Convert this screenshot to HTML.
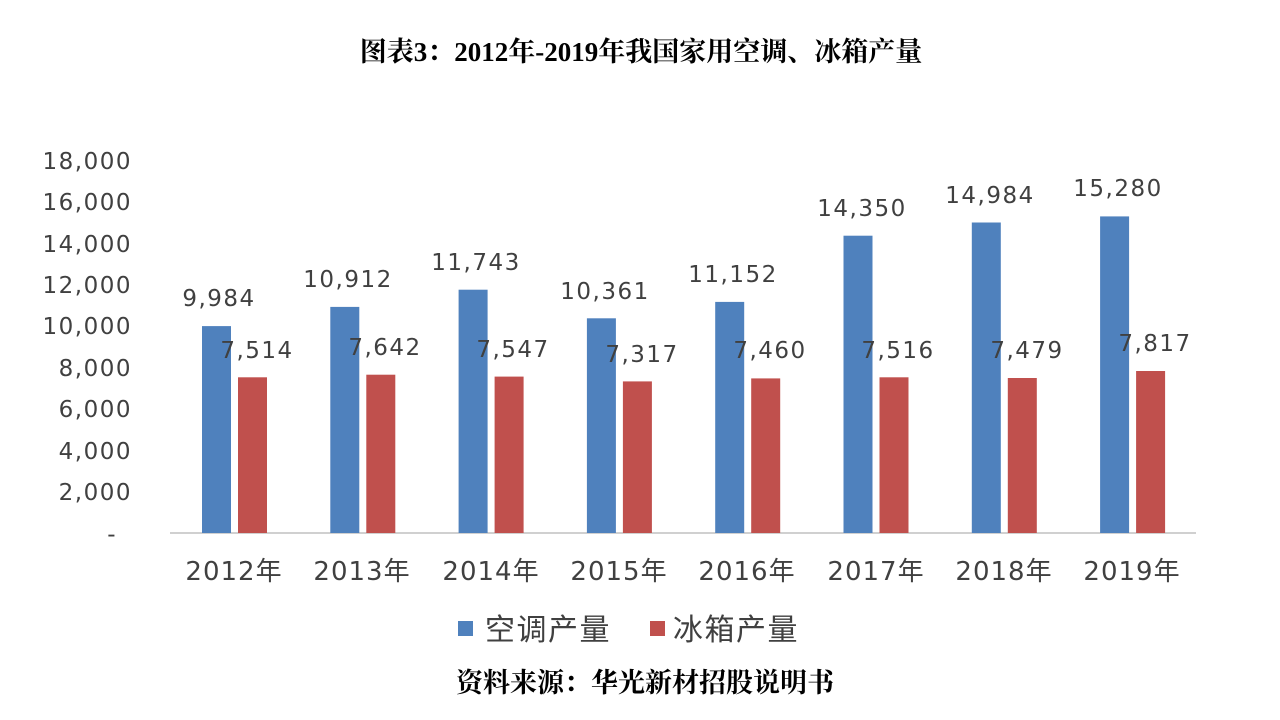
<!DOCTYPE html>
<html><head><meta charset="utf-8"><style>
body{margin:0;background:#fff;width:1280px;height:720px;overflow:hidden}
svg{display:block}
.t{font-family:"Liberation Serif","Noto Serif CJK SC",serif;font-weight:bold;fill:#000}
.a{font-family:"DejaVu Sans","Noto Sans CJK SC",sans-serif;fill:#404040;font-size:23px;letter-spacing:1.5px}
.y{font-size:26px;letter-spacing:1px}
.l{font-size:30px;letter-spacing:1.5px}
</style></head><body>
<svg width="1280" height="720" viewBox="0 0 1280 720">
<text class="t" x="641" y="61" style="font-size:27px" text-anchor="middle">图表3：2012年-2019年我国家用空调、冰箱产量</text>
<g class="a" text-anchor="end">
<text x="132" y="169">18,000</text>
<text x="132" y="210">16,000</text>
<text x="132" y="252">14,000</text>
<text x="132" y="293">12,000</text>
<text x="132" y="334">10,000</text>
<text x="132" y="376">8,000</text>
<text x="132" y="417">6,000</text>
<text x="132" y="459">4,000</text>
<text x="132" y="500">2,000</text>
<text x="117" y="542">-</text>
</g>
<line x1="170" y1="533" x2="1196" y2="533" stroke="#d0d0d0" stroke-width="2"/>
<g fill="#4f81bd">
<rect x="202" y="326.1" width="29" height="206.9"/>
<rect x="330.3" y="306.9" width="29" height="226.1"/>
<rect x="458.6" y="289.7" width="29" height="243.3"/>
<rect x="586.9" y="318.3" width="29" height="214.7"/>
<rect x="715.2" y="301.9" width="29" height="231.1"/>
<rect x="843.5" y="235.7" width="29" height="297.3"/>
<rect x="971.8" y="222.5" width="29" height="310.5"/>
<rect x="1100.1" y="216.4" width="29" height="316.6"/>
</g>
<g fill="#c0504d">
<rect x="238" y="377.3" width="29" height="155.7"/>
<rect x="366.3" y="374.7" width="29" height="158.3"/>
<rect x="494.6" y="376.6" width="29" height="156.4"/>
<rect x="622.9" y="381.4" width="29" height="151.6"/>
<rect x="751.2" y="378.4" width="29" height="154.6"/>
<rect x="879.5" y="377.3" width="29" height="155.7"/>
<rect x="1007.8" y="378.0" width="29" height="155.0"/>
<rect x="1136.1" y="371.0" width="29" height="162.0"/>
</g>
<g class="a" text-anchor="middle">
<text x="219" y="306">9,984</text>
<text x="348" y="287">10,912</text>
<text x="476" y="270">11,743</text>
<text x="605" y="299">10,361</text>
<text x="733" y="282">11,152</text>
<text x="862" y="216">14,350</text>
<text x="990" y="203">14,984</text>
<text x="1118" y="196">15,280</text>
<text x="257" y="358">7,514</text>
<text x="385" y="355">7,642</text>
<text x="513" y="357">7,547</text>
<text x="642" y="362">7,317</text>
<text x="770" y="358">7,460</text>
<text x="898" y="358">7,516</text>
<text x="1027" y="358">7,479</text>
<text x="1155" y="351">7,817</text>
</g>
<g class="a y" text-anchor="middle">
<text x="234" y="580">2012年</text>
<text x="362" y="580">2013年</text>
<text x="491" y="580">2014年</text>
<text x="619" y="580">2015年</text>
<text x="747" y="580">2016年</text>
<text x="876" y="580">2017年</text>
<text x="1004" y="580">2018年</text>
<text x="1132" y="580">2019年</text>
</g>
<g class="a l">
<rect x="458" y="621" width="15" height="15" fill="#4f81bd"/>
<text x="485" y="640">空调产量</text>
<rect x="650" y="621" width="15" height="15" fill="#c0504d"/>
<text x="673" y="640">冰箱产量</text>
</g>
<text class="t" x="645" y="692" style="font-size:27px" text-anchor="middle">资料来源：华光新材招股说明书</text>
</svg></body></html>
